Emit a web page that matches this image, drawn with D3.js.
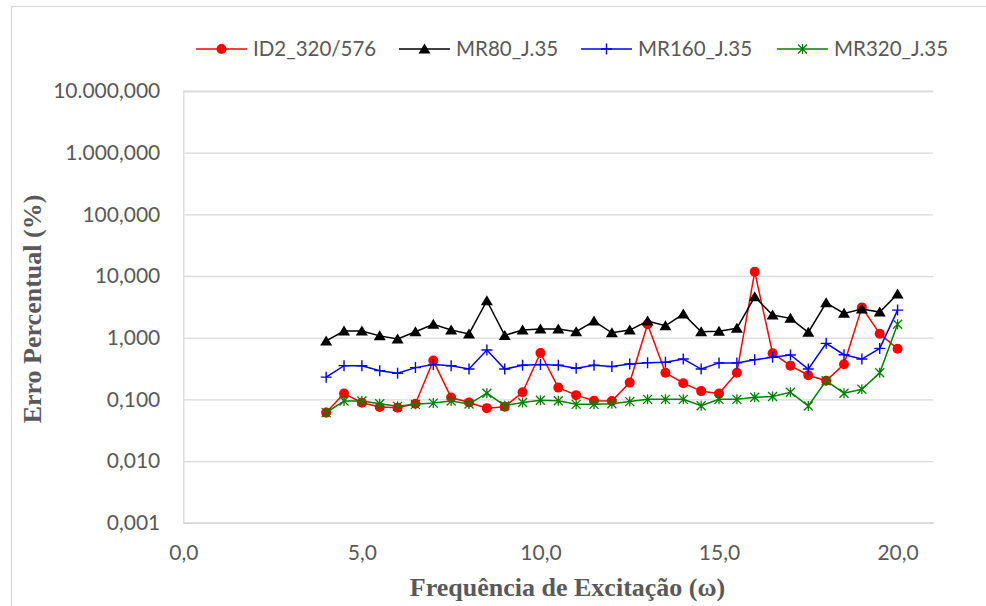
<!DOCTYPE html>
<html><head><meta charset="utf-8">
<script src="https://cdn.jsdelivr.net/npm/d3@7"></script>
<style>
html,body{margin:0;padding:0;background:#fff;}
svg{display:block;}
</style></head>
<body>
<svg id="chart" width="986" height="606"></svg>
<script>
const freq = [4,4.5,5,5.5,6,6.5,7,7.5,8,8.5,9,9.5,10,10.5,11,11.5,12,12.5,13,13.5,14,14.5,15,15.5,16,16.5,17,17.5,18,18.5,19,19.5,20];
const id2 = [0.061,0.124,0.088,0.075,0.073,0.085,0.425,0.107,0.089,0.072,0.076,0.13,0.565,0.155,0.117,0.095,0.094,0.187,1.65,0.27,0.183,0.136,0.124,0.27,11.7,0.56,0.352,0.246,0.2,0.37,3.1,1.16,0.66];
const mr80 = [0.885,1.28,1.28,1.07,0.95,1.25,1.65,1.33,1.15,3.97,1.09,1.33,1.38,1.38,1.25,1.86,1.2,1.33,1.86,1.56,2.42,1.25,1.27,1.42,4.6,2.33,2.06,1.22,3.68,2.48,2.91,2.6,5.1];
const mr160 = [0.229,0.352,0.35,0.292,0.265,0.327,0.366,0.35,0.31,0.63,0.31,0.357,0.366,0.357,0.32,0.357,0.34,0.375,0.394,0.4,0.45,0.31,0.39,0.39,0.44,0.48,0.525,0.31,0.81,0.53,0.45,0.67,2.8];
const mr320 = [0.061,0.094,0.094,0.085,0.077,0.083,0.087,0.094,0.084,0.126,0.079,0.089,0.097,0.095,0.083,0.083,0.085,0.092,0.1,0.1,0.1,0.079,0.1,0.1,0.108,0.111,0.13,0.078,0.2,0.126,0.146,0.27,1.65];
const seriesNames = ["ID2_320/576","MR80_J.35","MR160_J.35","MR320_J.35"];
const yTicks = [0.001,0.01,0.1,1,10,100,1000,10000];
const xTicks = [0,5,10,15,20];
const xTitle = "Frequência de Excitação (ω)";
const yTitle = "Erro Percentual (%)";

const series = [
  {name: seriesNames[0], values: id2, color: "#FF0000", marker: "circle"},
  {name: seriesNames[1], values: mr80, color: "#000000", marker: "triangle"},
  {name: seriesNames[2], values: mr160, color: "#0000FF", marker: "plus"},
  {name: seriesNames[3], values: mr320, color: "#008000", marker: "star"}
];

const svg = d3.select("#chart");
const L = 183.3, R = 933.3, T = 91, B = 522.7;
const x = d3.scaleLinear().domain([0, 21]).range([L, R]);
const y = d3.scaleLog().domain([0.001, 10000]).range([B, T]);
const loc = d3.formatLocale({decimal: ",", thousands: ".", grouping: [3], currency: ["", ""]});
const fy = loc.format(",.3f");
const fx = loc.format(".1f");
const sans = "Lato, 'Open Sans', sans-serif";
const serif = "'Liberation Serif', 'Times New Roman', serif";

// chart border
svg.append("rect").attr("x", 11.5).attr("y", 6.5).attr("width", 1000).attr("height", 700)
  .attr("fill", "none").attr("stroke", "#d9d9d9").attr("stroke-width", 1.3);

// gridlines + y axis
const yAxis = d3.axisLeft(y).tickValues(yTicks).tickFormat(fy).tickSize(-(R - L)).tickPadding(23);
const gy = svg.append("g").attr("transform", `translate(${L},0)`).call(yAxis);
gy.select(".domain").attr("stroke", "#d9d9d9").attr("stroke-width", 1.3);
gy.selectAll(".tick line").attr("stroke", "#d9d9d9").attr("stroke-width", 1.3);
gy.selectAll(".tick text").attr("fill", "#595959").style("font-family", sans).style("font-size", "21px");

const xAxis = d3.axisBottom(x).tickValues(xTicks).tickFormat(fx).tickSize(0).tickPadding(22);
const gx = svg.append("g").attr("transform", `translate(0,${B})`).call(xAxis);
gx.select(".domain").attr("stroke", "#d9d9d9").attr("stroke-width", 1.3);
gx.selectAll(".tick text").attr("fill", "#595959").style("font-family", sans).style("font-size", "21px");

// axis titles
svg.append("text").attr("x", 567.5).attr("y", 596).attr("text-anchor", "middle")
  .style("font-family", serif).style("font-weight", "bold")
  .style("font-size", "26px").attr("fill", "#595959").text(xTitle);
svg.append("text").attr("transform", "translate(41,309) rotate(-90)").attr("text-anchor", "middle")
  .style("font-family", serif).style("font-weight", "bold")
  .style("font-size", "26px").attr("fill", "#595959").text(yTitle);

function drawMarker(g, type, color) {
  if (type === "circle") {
    g.append("circle").attr("r", 5).attr("fill", color);
  } else if (type === "triangle") {
    g.append("path").attr("d", "M0,-5.5L6,4.5L-6,4.5Z").attr("fill", color);
  } else if (type === "plus") {
    g.append("path").attr("d", "M-5.5,0H5.5M0,-5.5V5.5").attr("stroke", color).attr("stroke-width", 1.4).attr("fill", "none");
  } else if (type === "star") {
    g.append("path").attr("d", "M-4.5,-4.5L4.5,4.5M-4.5,4.5L4.5,-4.5M0,-5V5").attr("stroke", color).attr("stroke-width", 1.3).attr("fill", "none");
  }
}

const line = d3.line().x(d => x(d[0])).y(d => y(d[1]));
series.forEach(s => {
  const pts = freq.map((f, i) => [f, s.values[i]]);
  const g = svg.append("g");
  g.append("path").datum(pts).attr("d", line).attr("fill", "none").attr("stroke", s.color).attr("stroke-width", 1.5);
  pts.forEach(p => {
    const m = g.append("g").attr("transform", `translate(${x(p[0])},${y(p[1])})`);
    drawMarker(m, s.marker, s.color);
  });
});

// legend
const legX = [196, 399, 581, 777];
const legY = 49;
series.forEach((s, i) => {
  const g = svg.append("g").attr("transform", `translate(${legX[i]},${legY})`);
  g.append("line").attr("x1", 0).attr("x2", 51).attr("stroke", s.color).attr("stroke-width", 1.5);
  const m = g.append("g").attr("transform", "translate(25.5,0)");
  drawMarker(m, s.marker, s.color);
  g.append("text").attr("x", 57).attr("y", 0).attr("dy", "0.35em")
    .style("font-family", sans).style("font-size", "20.5px").attr("fill", "#595959").text(s.name);
});
</script>
</body></html>
